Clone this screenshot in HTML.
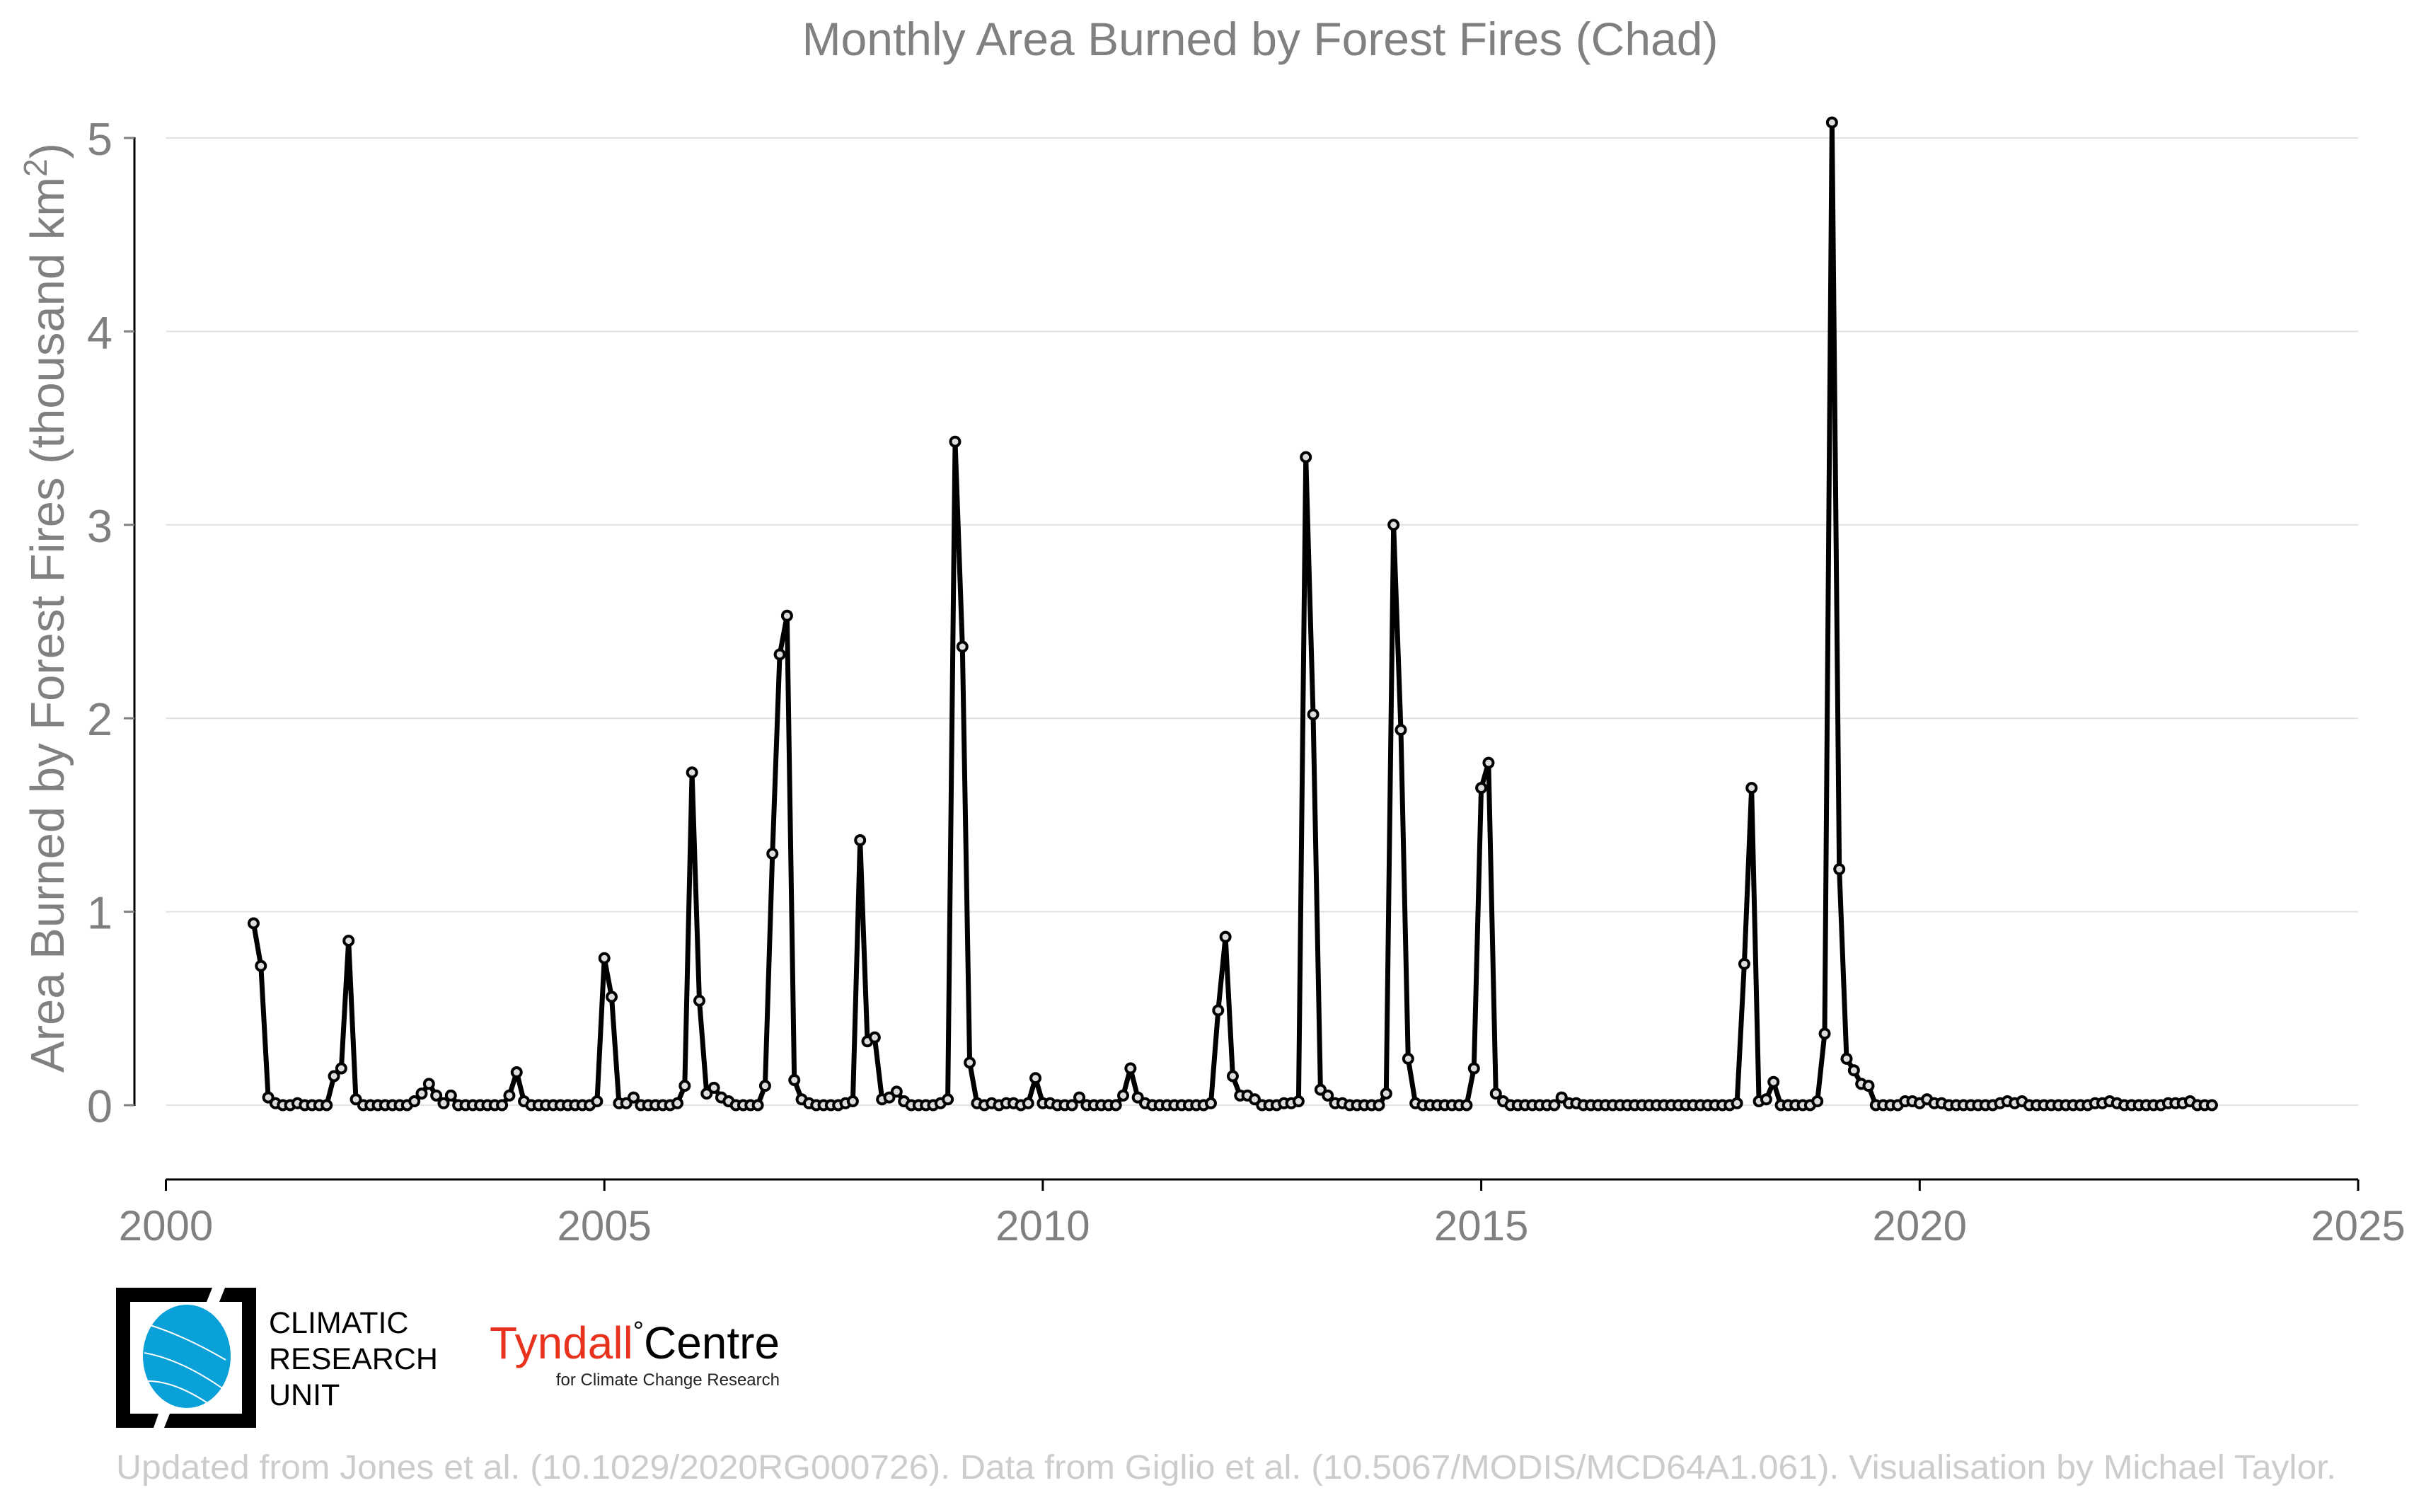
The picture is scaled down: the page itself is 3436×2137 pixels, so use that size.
<!DOCTYPE html>
<html><head><meta charset="utf-8">
<style>
html,body{margin:0;padding:0;background:#fff;}
body{width:3436px;height:2132px;overflow:hidden;font-family:"Liberation Sans",sans-serif;}
</style></head>
<body>
<svg id="chart" width="3436" height="2132" viewBox="0 0 3436 2132" xmlns="http://www.w3.org/2000/svg" font-family="Liberation Sans, sans-serif">
<text x="1781" y="78" font-size="66" fill="#808080" text-anchor="middle">Monthly Area Burned by Forest Fires (Chad)</text>
<g id="grid"></g>
<g id="yticks"></g>
<g id="xaxis"></g>
<text transform="translate(90,859) rotate(-90)" font-size="67" fill="#808080" text-anchor="middle">Area Burned by Forest Fires (thousand km<tspan dy="-24" font-size="46">2</tspan><tspan dy="24">)</tspan></text>
<g id="series"></g>

<g>
  <path d="M164,1820 H300 L292,1840 H184 V1998 H224 L217,2018 H164 Z" fill="#000"/>
  <path d="M362,1820 H318 L310,1840 H342 V1998 H240 L232,2018 H362 Z" fill="#000"/>
  <ellipse cx="264" cy="1917" rx="62" ry="73" fill="#0aa0d8"/>
  <path d="M209,1872 Q259,1887 319,1922 M204,1912 Q259,1922 321,1967 M209,1952 Q249,1952 299,1987" stroke="#fff" stroke-width="2" fill="none"/>
  <text x="380" y="1884" font-size="43" fill="#000">CLIMATIC</text>
  <text x="380" y="1935" font-size="43" fill="#000">RESEARCH</text>
  <text x="380" y="1986" font-size="43" fill="#000">UNIT</text>
</g>
<g>
  <text x="692" y="1920" font-size="64" fill="#e8321e">Tyndall<tspan fill="#000" font-size="38" dy="-26">°</tspan><tspan fill="#000" font-size="64" dy="26">Centre</tspan></text>
  <text x="1102" y="1958" font-size="24" fill="#222" text-anchor="end">for Climate Change Research</text>
</g>
<text x="164" y="2090" font-size="48" fill="#cccccc" textLength="3138" lengthAdjust="spacingAndGlyphs">Updated from Jones et al. (10.1029/2020RG000726). Data from Giglio et al. (10.5067/MODIS/MCD64A1.061). Visualisation by Michael Taylor.</text>
</svg>
<script>
const startYear = 2001;
const values2001 = [0.94,0.72,0.04,0.01,0,0,0.01,0,0,0,0,0.15];
const values2002 = [0.19,0.85,0.03,0,0,0,0,0,0,0,0.02,0.06];
const values2003 = [0.11,0.05,0.01,0.05,0,0,0,0,0,0,0,0.05];
const values2004 = [0.17,0.02,0,0,0,0,0,0,0,0,0,0.02];
const values2005 = [0.76,0.56,0.01,0.01,0.04,0,0,0,0,0,0.01,0.1];
const values2006 = [1.72,0.54,0.06,0.09,0.04,0.02,0,0,0,0,0.1,1.3];
const values2007 = [2.33,2.53,0.13,0.03,0.01,0,0,0,0,0.01,0.02,1.37];
const values2008 = [0.33,0.35,0.03,0.04,0.07,0.02,0,0,0,0,0.01,0.03];
const values2009 = [3.43,2.37,0.22,0.01,0,0.01,0,0.01,0.01,0,0.01,0.14];
const values2010 = [0.01,0.01,0,0,0,0.04,0,0,0,0,0,0.05];
const values2011 = [0.19,0.04,0.01,0,0,0,0,0,0,0,0,0.01];
const values2012 = [0.49,0.87,0.15,0.05,0.05,0.03,0,0,0,0.01,0.01,0.02];
const values2013 = [3.35,2.02,0.08,0.05,0.01,0.01,0,0,0,0,0,0.06];
const values2014 = [3.0,1.94,0.24,0.01,0,0,0,0,0,0,0,0.19];
const values2015 = [1.64,1.77,0.06,0.02,0,0,0,0,0,0,0,0.04];
const values2016 = [0.01,0.01,0,0,0,0,0,0,0,0,0,0];
const values2017 = [0,0,0,0,0,0,0,0,0,0,0,0.01];
const values2018 = [0.73,1.64,0.02,0.03,0.12,0,0,0,0,0,0.02,0.37];
const values2019 = [5.08,1.22,0.24,0.18,0.11,0.1,0,0,0,0,0.02,0.02];
const values2020 = [0.01,0.03,0.01,0.01,0,0,0,0,0,0,0,0.01];
const values2021 = [0.02,0.01,0.02,0,0,0,0,0,0,0,0,0];
const values2022 = [0.01,0.01,0.02,0.01,0,0,0,0,0,0,0.01,0.01];
const values2023 = [0.01,0.02,0,0,0];
const yTicks = [0,1,2,3,4,5];
const xTicks = [2000,2005,2010,2015,2020,2025];

const allYears = [values2001,values2002,values2003,values2004,values2005,values2006,values2007,values2008,values2009,values2010,values2011,values2012,values2013,values2014,values2015,values2016,values2017,values2018,values2019,values2020,values2021,values2022,values2023];
const values = [].concat(...allYears);

const NS = "http://www.w3.org/2000/svg";
const X0 = 234.5, X1 = 3333, Y0 = 1562, Y1 = 195;
function xScale(t){ return X0 + (t - 2000) / 25 * (X1 - X0); }
function yScale(v){ return Y0 - v / 5 * (Y0 - Y1); }
function mk(tag, attrs, parent){ const e = document.createElementNS(NS, tag); for (const k in attrs) e.setAttribute(k, attrs[k]); parent.appendChild(e); return e; }

const grid = document.getElementById('grid');
const yg = document.getElementById('yticks');
const yAxisX = 190;
const yl = mk('line', {x1: yAxisX, x2: yAxisX, y1: yScale(5) - 1, y2: yScale(0) + 1, stroke: '#000', 'stroke-width': 3}, yg);


yTicks.forEach(v => {
  const l = mk('line', {x1: X0, x2: X1, y1: yScale(v), y2: yScale(v), stroke: '#e2e2e2', 'stroke-width': 2}, grid);
  
  
  const tk = mk('line', {x1: yAxisX - 15, x2: yAxisX, y1: yScale(v), y2: yScale(v), stroke: '#808080', 'stroke-width': 3}, yg);
  
  
  const t = mk('text', {x: 159, y: yScale(v) + 24, 'font-size': 65, fill: '#808080', 'text-anchor': 'end'}, yg);
  t.textContent = v;
  
  
});

const xg = document.getElementById('xaxis');
const axisY = 1667;
const al = mk('line', {x1: X0, x2: X1, y1: axisY, y2: axisY, stroke: '#000', 'stroke-width': 3}, xg);


xTicks.forEach(y => {
  const tk = mk('line', {x1: xScale(y), x2: xScale(y), y1: axisY, y2: axisY + 16, stroke: '#000', 'stroke-width': 3}, xg);
  
  
  const t = mk('text', {x: xScale(y), y: 1753, 'font-size': 60, fill: '#808080', 'text-anchor': 'middle'}, xg);
  t.textContent = y;
  
  
});

const sg = document.getElementById('series');
const pts = values.map((v, i) => [xScale(startYear + i / 12), yScale(v)]);
const line = mk('polyline', {points: pts.map(p => p[0].toFixed(1) + ',' + p[1].toFixed(1)).join(' '), fill: 'none', stroke: '#000', 'stroke-width': 7, 'stroke-linejoin': 'round'}, sg);


pts.forEach((p, i) => {
  const c = mk('circle', {cx: p[0], cy: p[1], r: 6.5, fill: '#dddddd', stroke: '#000', 'stroke-width': 4}, sg);
  
  
});
</script>
</body></html>
